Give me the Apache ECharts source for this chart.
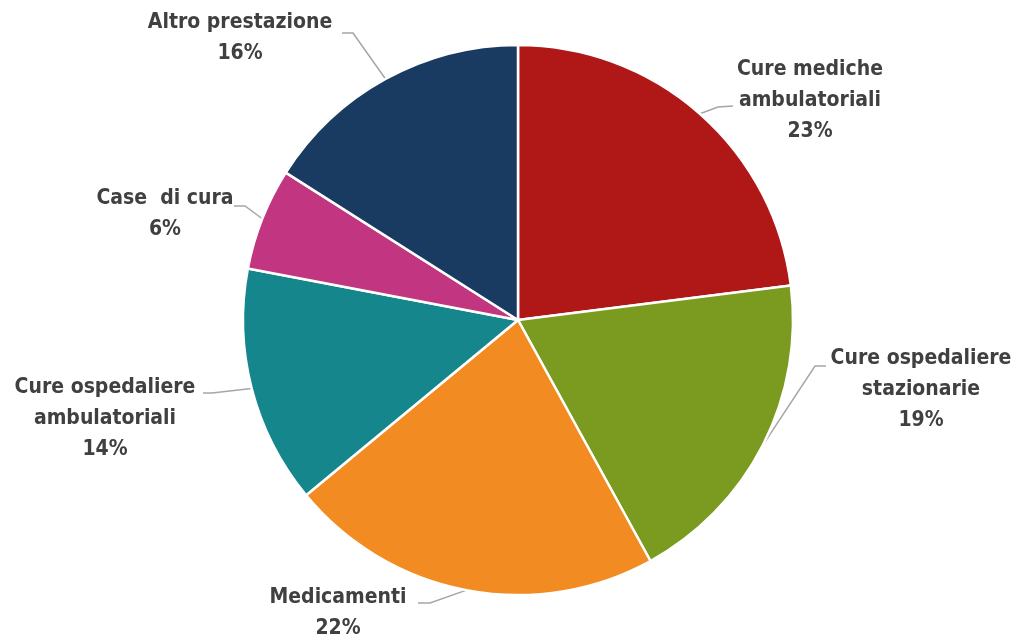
<!DOCTYPE html>
<html>
<head>
<meta charset="utf-8">
<script src="https://cdn.jsdelivr.net/npm/echarts@6/dist/echarts.min.js"></script>
<style>
html,body{margin:0;padding:0;background:#fff;}
#main{width:1017px;height:638px;}
</style>
</head>
<body>
<div id="main"></div>
<script>
// dati
var categorie = ['Cure mediche\nambulatoriali', 'Cure ospedaliere\nstazionarie', 'Medicamenti',
    'Cure ospedaliere\nambulatoriali', 'Case  di cura', 'Altro prestazione'];
var valori = [23, 19, 22, 14, 6, 16];
var colori = ['#B01818', '#7A9A20', '#F28C22', '#15868C', '#C23580', '#193B61'];

// posizione delle etichette (centro del blocco di testo) e dei segmenti guida
var posEtichette = [[810, 101], [921, 390], [338, 613], [105, 419], [165, 214], [240, 38]];
var gomiti = [[[718, 107], [733, 106]], [[815, 366], [826, 366]], [[430, 603], [418, 603]],
    [[212, 393], [203, 393]], [[245, 206], [234, 206]], [[353, 33], [342, 33]]];

var dati = [];
for (var i = 0; i < valori.length; i++) {
    dati.push({name: categorie[i], value: valori[i], itemStyle: {color: colori[i]}});
}

var myChart = echarts.init(document.getElementById('main'));
var option = {
    backgroundColor: '#fff',
    animation: false,
    series: [{
        type: 'pie',
        center: [518, 320],
        radius: 275,
        startAngle: 90,
        clockwise: true,
        data: dati,
        itemStyle: {borderColor: '#fff', borderWidth: 2.5},
        label: {
            show: true,
            formatter: '{b}\n{d}%',
            color: '#404040',
            fontFamily: 'DejaVu Sans Condensed, sans-serif',
            fontWeight: 'bold',
            fontSize: 21,
            lineHeight: 31,
            align: 'center'
        },
        labelLine: {
            show: true,
            length: 20,
            length2: 10,
            lineStyle: {color: '#A6A6A6', width: 1.5}
        },
        labelLayout: function (params) {
            var p = posEtichette[params.dataIndex];
            var g = gomiti[params.dataIndex];
            var punti = [params.labelLinePoints[0], g[0], g[1]];
            return {x: p[0], y: p[1], align: 'center', verticalAlign: 'middle', labelLinePoints: punti};
        }
    }]
};
myChart.setOption(option);
</script>
</body>
</html>
